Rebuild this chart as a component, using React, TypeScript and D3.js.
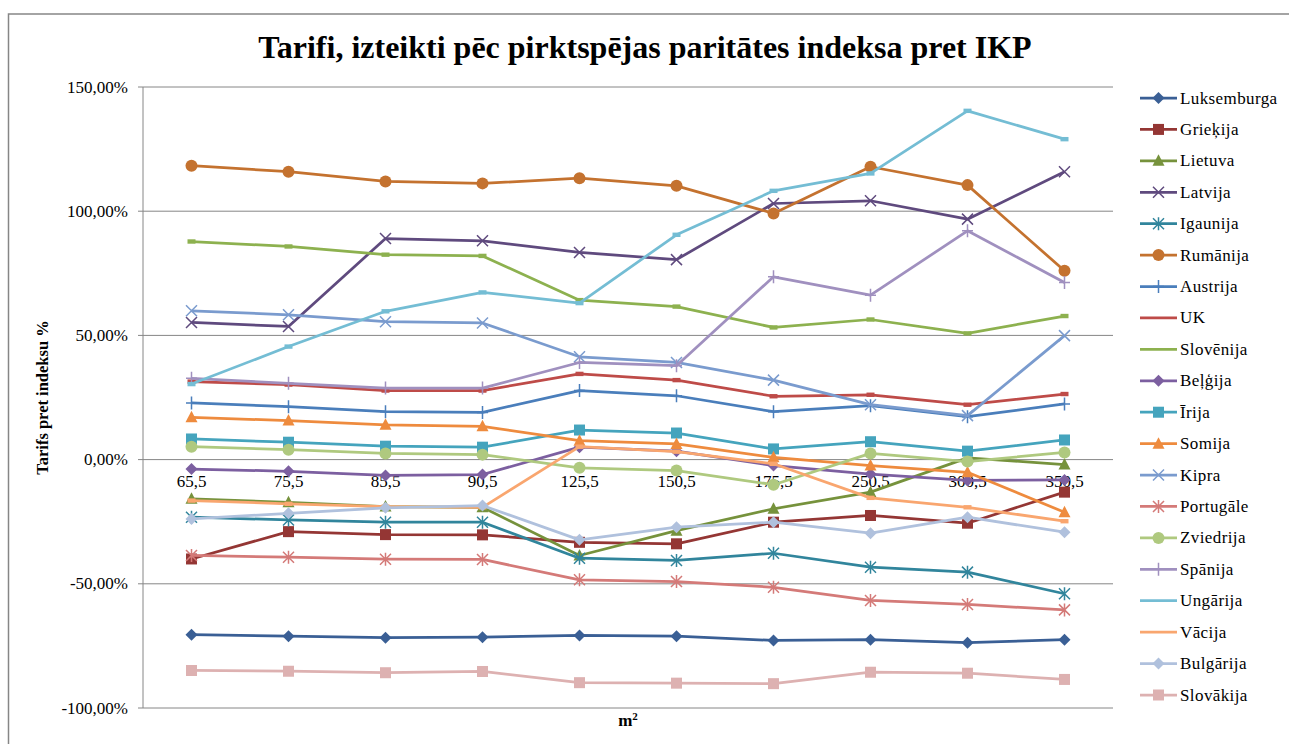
import React from 'react';
import * as d3 from 'd3';

// categories (m²)
const categories = ['65,5', '75,5', '85,5', '90,5', '125,5', '150,5', '175,5', '250,5', '300,5', '350,5'];
const yTicks = [-100, -50, 0, 50, 100, 150];

// series values, %
const luksemburga = [-70.5, -71.1, -71.7, -71.5, -70.8, -71.1, -72.8, -72.5, -73.7, -72.5];
const griekija = [-40, -29, -30.2, -30.3, -33.3, -33.9, -25.2, -22.5, -25.6, -13.1];
const lietuva = [-15.8, -17.2, -18.9, -19.2, -38.6, -28.6, -19.8, -13.1, 0.7, -2];
const latvija = [55.2, 53.6, 89, 88.1, 83.4, 80.5, 103.1, 104.2, 96.8, 115.9];
const igaunija = [-23.2, -24.3, -25.2, -25.2, -39.7, -40.6, -37.7, -43.3, -45.3, -54];
const rumanija = [118.3, 115.9, 112, 111.2, 113.3, 110.2, 99.1, 117.9, 110.5, 76];
const austrija = [22.8, 21.3, 19.3, 19, 27.8, 25.7, 19.3, 21.7, 17.3, 22.4];
const uk = [31.4, 30.2, 27.8, 27.8, 34.5, 32, 25.5, 26.1, 22.1, 26.4];
const slovenija = [87.8, 85.8, 82.5, 82, 64.2, 61.6, 53.2, 56.4, 50.8, 57.8];
const belgija = [-3.8, -4.7, -6.4, -6, 5, 3.4, -2.4, -5.8, -8.4, -8.2];
const irija = [8.3, 7, 5.4, 5, 11.9, 10.7, 4.3, 7.2, 3.4, 7.9];
const somija = [17, 15.7, 14, 13.4, 7.6, 6.3, 0.9, -2.4, -5.1, -21.2];
const kipra = [59.9, 58.3, 55.5, 55, 41.4, 39.1, 32, 22.1, 17.7, 49.9];
const portugale = [-38.6, -39.3, -40.1, -40.2, -48.4, -49.1, -51.4, -56.7, -58.3, -60.5];
const zviedrija = [5.2, 4, 2.5, 2, -3.3, -4.4, -10.1, 2.5, -0.8, 2.9];
const spanija = [32.7, 30.7, 28.8, 28.8, 39.1, 37.8, 73.6, 66.2, 92.1, 71.3];
const ungarija = [30.4, 45.5, 59.7, 67.3, 63, 90.5, 108.2, 115.2, 140.4, 129];
const vacija = [-16.5, -17.8, -18.9, -19.2, 5.2, 3.2, -1.7, -15.4, -19.2, -24.8];
const bulgarija = [-23.9, -21.6, -19.4, -18.5, -32.3, -27.2, -25.2, -29.6, -23.2, -29.2];
const slovakija = [-84.9, -85.2, -85.8, -85.3, -89.8, -90, -90.2, -85.6, -86, -88.5];

type Marker = 'diamond' | 'square' | 'triangle' | 'x' | 'asterisk' | 'circle' | 'plus' | 'dash';

const series: { name: string; values: number[]; color: string; marker: Marker }[] = [
  { name: 'Luksemburga', values: luksemburga, color: '#3A5F95', marker: 'diamond' },
  { name: 'Grieķija', values: griekija, color: '#943634', marker: 'square' },
  { name: 'Lietuva', values: lietuva, color: '#76923C', marker: 'triangle' },
  { name: 'Latvija', values: latvija, color: '#5F4A7E', marker: 'x' },
  { name: 'Igaunija', values: igaunija, color: '#31859C', marker: 'asterisk' },
  { name: 'Rumānija', values: rumanija, color: '#C4722F', marker: 'circle' },
  { name: 'Austrija', values: austrija, color: '#4A7EBB', marker: 'plus' },
  { name: 'UK', values: uk, color: '#BE4B48', marker: 'dash' },
  { name: 'Slovēnija', values: slovenija, color: '#8DB14F', marker: 'dash' },
  { name: 'Beļģija', values: belgija, color: '#7C5FA0', marker: 'diamond' },
  { name: 'Īrija', values: irija, color: '#45A4BD', marker: 'square' },
  { name: 'Somija', values: somija, color: '#EE8B3E', marker: 'triangle' },
  { name: 'Kipra', values: kipra, color: '#7A9BCE', marker: 'x' },
  { name: 'Portugāle', values: portugale, color: '#D47A78', marker: 'asterisk' },
  { name: 'Zviedrija', values: zviedrija, color: '#AFC97F', marker: 'circle' },
  { name: 'Spānija', values: spanija, color: '#A090BF', marker: 'plus' },
  { name: 'Ungārija', values: ungarija, color: '#74BDD4', marker: 'dash' },
  { name: 'Vācija', values: vacija, color: '#F9A66F', marker: 'dash' },
  { name: 'Bulgārija', values: bulgarija, color: '#B0C1DD', marker: 'diamond' },
  { name: 'Slovākija', values: slovakija, color: '#DDB1B1', marker: 'square' },
];

const W = 1289;
const H = 744;
const plot = { left: 143, right: 1113, top: 87, bottom: 708 };
const font = "'Liberation Serif', 'DejaVu Serif', serif";
const gridColor = '#868686';

const MarkerShape = ({ type, cx, cy, color }: { type: Marker; cx: number; cy: number; color: string }) => {
  const r = 5.5;
  switch (type) {
    case 'diamond':
      return <path d={`M${cx},${cy - 6}L${cx + 6},${cy}L${cx},${cy + 6}L${cx - 6},${cy}Z`} fill={color} />;
    case 'square':
      return <rect x={cx - r} y={cy - r} width={r * 2} height={r * 2} fill={color} />;
    case 'triangle':
      return <path d={`M${cx},${cy - 6.5}L${cx + 6},${cy + 5}L${cx - 6},${cy + 5}Z`} fill={color} />;
    case 'circle':
      return <circle cx={cx} cy={cy} r={6} fill={color} />;
    case 'x':
      return <path d={`M${cx - r},${cy - r}L${cx + r},${cy + r}M${cx - r},${cy + r}L${cx + r},${cy - r}`} stroke={color} strokeWidth={1.5} fill="none" />;
    case 'asterisk':
      return <path d={`M${cx - r},${cy - r}L${cx + r},${cy + r}M${cx - r},${cy + r}L${cx + r},${cy - r}M${cx},${cy - r - 1}L${cx},${cy + r + 1}`} stroke={color} strokeWidth={1.5} fill="none" />;
    case 'plus':
      return <path d={`M${cx},${cy - r - 1}L${cx},${cy + r + 1}M${cx - r},${cy}L${cx + r},${cy}`} stroke={color} strokeWidth={1.5} fill="none" />;
    case 'dash':
      return <rect x={cx - 4} y={cy - 2.2} width={8} height={4.4} fill={color} />;
  }
  return null;
};

export default function App() {
  const x = d3.scaleBand<string>().domain(categories).range([plot.left, plot.right]).padding(0);
  const cx = (c: string) => (x(c) ?? 0) + x.bandwidth() / 2;
  const y = d3.scaleLinear().domain([-100, 150]).range([plot.bottom, plot.top]);
  const fmt = (v: number) => v.toFixed(2).replace('.', ',') + '%';

  const line = d3
    .line<number>()
    .x((_, i) => cx(categories[i]))
    .y((d) => y(d));

  const legendY = d3.scalePoint<string>().domain(series.map((s) => s.name)).range([98, 695]);

  return (
    <svg
      width={W}
      height={H}
      style={{ position: 'absolute', left: 0, top: 0, background: '#fff', fontFamily: font }}
    >
      <rect x={8.5} y={14} width={W + 20} height={H + 20} fill="#fff" stroke={gridColor} strokeWidth={1.5} />

      <text x={645} y={58} textAnchor="middle" fontSize={32} fontWeight="bold" fill="#000">
        Tarifi, izteikti pēc pirktspējas paritātes indeksa pret IKP
      </text>

      {/* gridlines + y axis */}
      {yTicks.map((t) => (
        <g key={t}>
          <line x1={plot.left - 5} x2={plot.right} y1={y(t)} y2={y(t)} stroke={gridColor} strokeWidth={1} />
          <text x={128} y={y(t) + 5.5} textAnchor="end" fontSize={17} fill="#000">
            {fmt(t)}
          </text>
        </g>
      ))}
      <line x1={plot.left} x2={plot.left} y1={plot.top} y2={plot.bottom} stroke={gridColor} strokeWidth={1} />

      {/* x tick labels next to the zero line */}
      {categories.map((c) => (
        <text key={c} x={cx(c)} y={y(0) + 27} textAnchor="middle" fontSize={17} fill="#000">
          {c}
        </text>
      ))}

      <text
        transform={`translate(48,${(plot.top + plot.bottom) / 2}) rotate(-90)`}
        textAnchor="middle"
        fontSize={16.5}
        fontWeight="bold"
        fill="#000"
      >
        Tarifs pret indeksu %
      </text>
      <text x={628} y={726} textAnchor="middle" fontSize={17} fontWeight="bold" fill="#000">
        m<tspan dy={-6} fontSize={11}>2</tspan>
      </text>

      {/* series */}
      {series.map((s) => (
        <g key={s.name}>
          <path d={line(s.values) ?? ''} fill="none" stroke={s.color} strokeWidth={2.75} strokeLinejoin="round" />
          {s.values.map((v, i) => (
            <MarkerShape key={i} type={s.marker} cx={cx(categories[i])} cy={y(v)} color={s.color} />
          ))}
        </g>
      ))}

      {/* legend */}
      {series.map((s) => {
        const ly = legendY(s.name) ?? 0;
        return (
          <g key={s.name}>
            <line x1={1140} x2={1177} y1={ly} y2={ly} stroke={s.color} strokeWidth={2.75} />
            {s.marker !== 'dash' && <MarkerShape type={s.marker} cx={1158.5} cy={ly} color={s.color} />}
            <text x={1180} y={ly + 5.5} fontSize={17} letterSpacing={0.4} fill="#000">
              {s.name}
            </text>
          </g>
        );
      })}
    </svg>
  );
}
